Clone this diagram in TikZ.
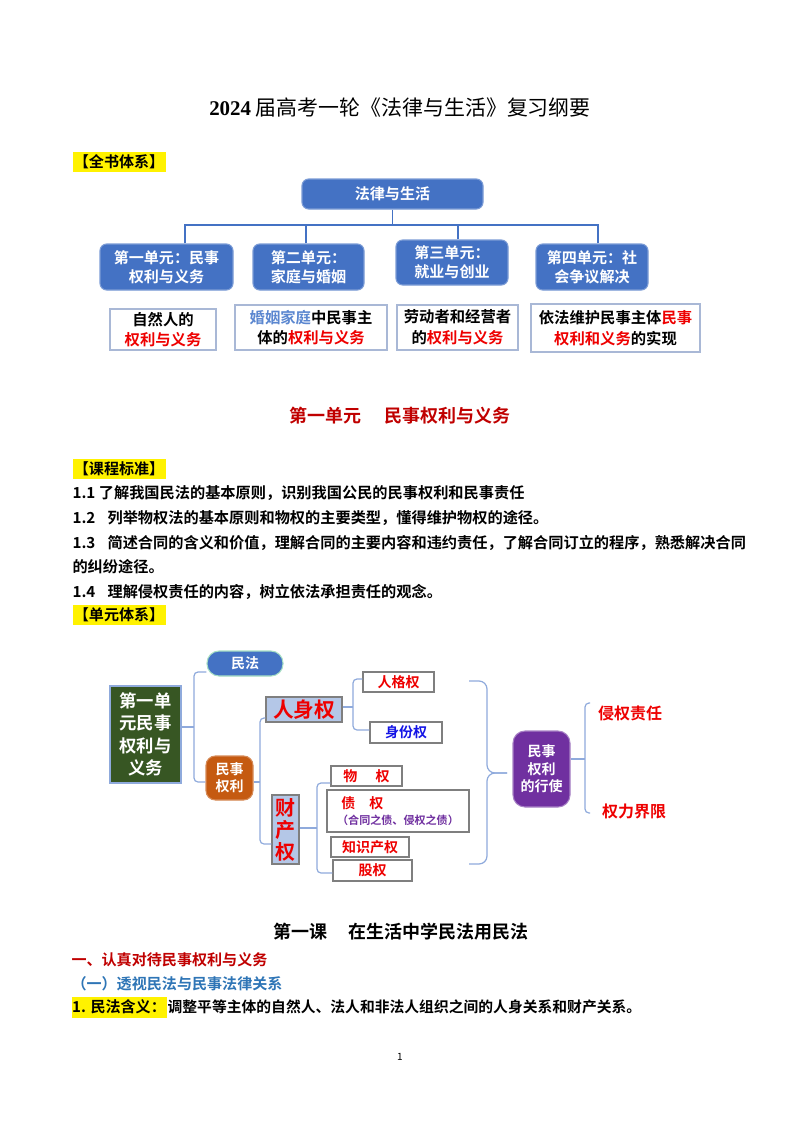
\documentclass[tikz,border=0pt]{standalone}
\usepackage{fontspec}
\setmainfont{Noto Sans CJK SC}[BoldFont={Noto Sans CJK SC Bold}]
\newfontfamily\numfont{Liberation Serif}
\usetikzlibrary{calc}
\definecolor{cblue}{HTML}{4472C4}
\definecolor{cred}{HTML}{C00000}
\definecolor{cbright}{HTML}{EE0000}
\definecolor{cnavy}{HTML}{1414E6}
\definecolor{cgreen}{HTML}{375623}
\definecolor{corange}{HTML}{C55A11}
\definecolor{cviolet}{HTML}{7030A0}
\definecolor{cpale}{HTML}{B4C7E7}
\definecolor{cline}{HTML}{8FAADC}
\definecolor{cframe}{HTML}{A9B8D6}
\definecolor{cgrey}{HTML}{7F7F7F}
\definecolor{chead}{HTML}{2E75B6}
\definecolor{cmarry}{HTML}{5B87D0}
\newcommand{\pxu}{0.75pt}
\newcommand{\rtxt}[1]{\textcolor{cbright}{#1}}
\tikzset{
  every picture/.style={line width=0.8pt},
  sz/.style 2 args={minimum width=#1*\pxu, minimum height=#2*\pxu},
  unit/.style={draw=cblue!70!white, fill=cblue, rounded corners=5pt, text=white, align=center, inner sep=0pt, font=\bfseries\fontsize{11.3}{14.5}\selectfont},
  plain/.style={draw=cframe, fill=white, align=center, inner sep=0pt, font=\bfseries\fontsize{11.5}{15.5}\selectfont},
  link/.style={draw=cblue, line width=1pt},
  brace/.style={draw=cline, line width=0.9pt, rounded corners=3pt},
  hl/.style={fill=yellow, anchor=west, inner xsep=1pt, inner ysep=2.5pt, font=\bfseries\fontsize{11.3}{14}\selectfont},
  body/.style={anchor=west, inner sep=0pt, font=\bfseries\fontsize{11.4}{14}\selectfont},
  tag/.style={draw=cgrey, fill=white, text=cbright, inner sep=0pt, font=\bfseries\fontsize{10.5}{13}\selectfont},
  bigtag/.style={draw=cgrey, fill=cpale, text=cbright, align=center, inner sep=0pt, font=\bfseries\fontsize{15.5}{16.5}\selectfont},
  solid/.style={text=white, align=center, inner sep=0pt, font=\bfseries\fontsize{10.5}{13}\selectfont},
}

\begin{document}
\begin{tikzpicture}[x=0.75pt, y=-0.75pt]
  \useasboundingbox[fill=white] (0,0) rectangle (800,1131);

  % page title
  \node (title) at (400,108) {\fontsize{15.7}{18}\selectfont{\numfont\bfseries 2024} 届高考一轮《法律与生活》复习纲要};

  % whole book
  \node[hl] (hlbook) at (72,162) {【全书体系】};
  \node[unit, sz={181}{30}] (law) at (392.5,194) {法律与生活};
  \node[unit, sz={133}{46}] (u1) at (166.5,267) {第一单元：民事\\权利与义务};
  \node[unit, sz={111}{46}] (u2) at (308.5,267) {第二单元：\\家庭与婚姻};
  \node[unit, sz={112}{45}] (u3) at (452,262.5) {第三单元：\\就业与创业};
  \node[unit, sz={112}{46}] (u4) at (592,267) {第四单元：社\\会争议解决};
  \coordinate (bus) at (392.5,225);
  \draw[link] (law) -- (bus);
  \foreach \u/\dx in {u1/18.5, u2/-2.5, u3/6, u4/6}
    \draw[link] ($(\u.north)+(\dx,0)$) |- (bus);

  \node[plain, sz={106}{41}] (p1) at (163,329.5) {自然人的\\\rtxt{权利与义务}};
  \node[plain, sz={152}{45}] (p2) at (311,327.5) {\textcolor{cmarry}{婚姻家庭}中民事主\\体的\rtxt{权利与义务}};
  \node[plain, sz={121}{45}] (p3) at (457.5,327.5) {劳动者和经营者\\的\rtxt{权利与义务}};
  \node[plain, sz={169}{48}] (p4) at (615.5,328) {依法维护民事主体\rtxt{民事}\\\rtxt{权利和义务}的实现};

  % unit one
  \node[text=cred, font=\bfseries\fontsize{13.5}{16}\selectfont] (sec1) at (400,416) {第一单元\hspace{1.3em}民事权利与义务};

  \node[hl] (hlstd) at (72,469) {【课程标准】};
  \node[body] (s1) at (72,493) {1.1 了解我国民法的基本原则，识别我国公民的民事权利和民事责任};
  \node[body] (s2) at (72,518) {1.2\hspace{0.8em}列举物权法的基本原则和物权的主要类型，懂得维护物权的途径。};
  \node[body] (s3) at (72,543) {1.3\hspace{0.8em}简述合同的含义和价值，理解合同的主要内容和违约责任，了解合同订立的程序，熟悉解决合同};
  \node[body] (s3b) at (72,567) {的纠纷途径。};
  \node[body] (s4) at (72,592) {1.4\hspace{0.8em}理解侵权责任的内容，树立依法承担责任的观念。};
  \node[hl] (hlsys) at (72,615) {【单元体系】};

  % mind map
  \node[fill=cgreen, draw=cline, solid, sz={71}{97}, font=\bfseries\fontsize{13}{16.9}\selectfont] (g) at (145.5,734.5) {第一单\\元民事\\权利与\\义务};
  \node[fill=cblue, draw=cblue!55!green!40!white, solid, sz={76}{25}, rounded corners=9pt] (mf) at (245,663.5) {民法};
  \node[fill=corange, draw=corange!70!white, solid, sz={47}{44}, rounded corners=7pt] (mr) at (229.5,778) {民事\\权利};
  \node[bigtag, sz={76}{25}] (rs) at (304,709.5) {人身权};
  \node[bigtag, sz={27}{69}, font=\bfseries\fontsize{15}{16.5}\selectfont] (cc) at (285.5,829.5) {财\\产\\权};
  \node[tag, sz={71}{20}] (rg) at (398.5,682) {人格权};
  \node[tag, sz={72}{21}, text=cnavy] (sf) at (406,732.5) {身份权};
  \node[tag, sz={71}{20}] (wq) at (366.5,776) {物\hspace{1.3em}权};
  \node[tag, sz={142}{42}, align=left] (zq) at (398,811) {\hspace{0.3em}债\hspace{1em}权\\[-1pt]{\color{cviolet}\fontsize{8.3}{10}\selectfont（合同之债、侵权之债）}};
  \node[tag, sz={78}{20}] (zs) at (370,847) {知识产权};
  \node[tag, sz={79}{21}] (gq) at (372.5,870.5) {股权};
  \node[fill=cviolet, draw=cviolet!60!white, solid, sz={57}{76}, rounded corners=9pt, font=\bfseries\fontsize{10.5}{13.1}\selectfont] (xs) at (541.5,769) {民事\\权利\\的行使};
  \node[text=cbright, font=\bfseries\fontsize{12}{14}\selectfont] (qz) at (630,713) {侵权责任};
  \node[text=cbright, font=\bfseries\fontsize{12}{14}\selectfont] (jx) at (634,811) {权力界限};

  \coordinate (b1) at (194,727);
  \draw[brace] (g.east |- b1) -- (b1);
  \draw[brace] ($(mf.west)+(0,8.5)$) -| (b1) |- ($(mr.west)+(0,4)$);
  \coordinate (b2) at (260,782);
  \draw[brace] (mr.east |- b2) -- (b2);
  \draw[brace] ($(rs.west)+(0,8.5)$) -| (b2) |- ($(cc.west)+(0,14.5)$);
  \coordinate (b3) at (353,707);
  \draw[brace] (rs.east |- b3) -- (b3);
  \draw[brace] ($(rg.west)+(0,-3)$) -| (b3) |- ($(sf.west)+(0,-2.5)$);
  \coordinate (b4) at (317,828);
  \draw[brace] (cc.east |- b4) -- (b4);
  \draw[brace] ($(wq.west)+(0,7)$) -| (b4) |- ($(gq.west)+(0,2.5)$);

  % big brace
  \coordinate (bt) at (469,681);
  \coordinate (bb) at (469,864);
  \coordinate (bmid) at (487,773);
  \coordinate (btip) at (507,773);
  \draw[brace, rounded corners=6pt] (bt) -| (bmid) -- (btip);
  \draw[brace, rounded corners=6pt] (bb) -| (bmid) -- (btip);

  \coordinate (rb) at (585,759);
  \coordinate (rt) at (590,703);
  \coordinate (rl) at (590,813);
  \draw[brace] (xs.east |- rb) -- (rb);
  \draw[brace] (rt) -| (rb) |- (rl);

  % lesson one
  \node[font=\bfseries\fontsize{13.5}{16}\selectfont] (les1) at (401,932) {第一课\hspace{1.2em}在生活中学民法用民法};
  \node[body, text=cred, font=\bfseries\fontsize{11.3}{14}\selectfont] (h1) at (71,960) {一、认真对待民事权利与义务};
  \node[body, text=chead, font=\bfseries\fontsize{11.3}{14}\selectfont] (h2) at (71,984) {（一）透视民法与民事法律关系};
  \node[hl, inner xsep=0.5pt] (hldef) at (71,1007) {1. 民法含义：};
  \node[body, font=\bfseries\fontsize{11.1}{14}\selectfont] (def) at (hldef.east) {调整平等主体的自然人、法人和非法人组织之间的人身关系和财产关系。};

  \node[font=\fontsize{7.5}{9}\selectfont] (pg) at (400,1057) {1};
\end{tikzpicture}
\end{document}
